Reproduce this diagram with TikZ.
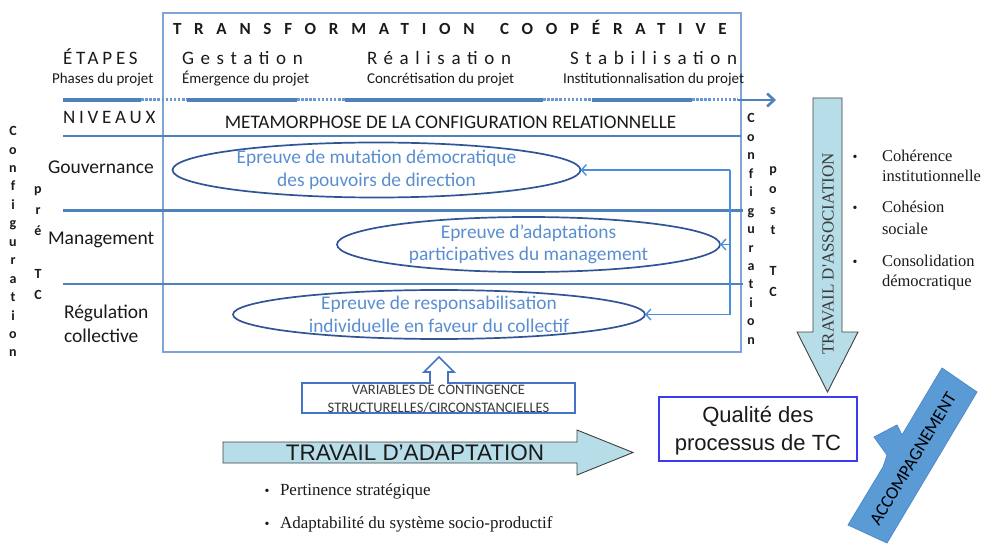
\documentclass[tikz,border=0pt]{standalone}
\usepackage{fontspec}
\setmainfont{Carlito}
\newfontfamily\serif{Liberation Serif}
\newfontfamily\arial{Liberation Sans}
\newfontfamily\wide[LetterSpace=20]{Carlito}
\newfontfamily\wider[LetterSpace=35]{Carlito}
\newfontfamily\widest[LetterSpace=75]{Carlito}
\usetikzlibrary{shapes.geometric,arrows.meta}
\definecolor{lineblue}{HTML}{4F81BD}
\definecolor{dotblue}{HTML}{6A98D2}
\definecolor{rectblue}{HTML}{7FA5D6}
\definecolor{ellblue}{HTML}{2F5597}
\definecolor{txtblue}{HTML}{5A8ED0}
\definecolor{fbblue}{HTML}{4A8FDB}
\definecolor{cyanfill}{HTML}{B7DEE8}
\definecolor{accblue}{HTML}{5B9BD5}
\definecolor{accedge}{HTML}{4F8BC9}
\definecolor{qblue}{HTML}{3B3BF5}
\definecolor{calloutblue}{HTML}{4472C4}
\definecolor{txt}{HTML}{1A1A1A}
\definecolor{arrowedge}{HTML}{404040}
\definecolor{graytxt}{HTML}{3A3A3A}
\begin{document}
\begin{tikzpicture}[x=1pt,y=-1pt,
  every node/.style={inner sep=0pt, outer sep=0pt, text=txt},
  hline/.style={draw=lineblue, line width=2.2pt},
  tlsolid/.style={draw=lineblue, line width=3.4pt},
  tldot/.style={draw=dotblue, line width=3pt, dash pattern=on 2.5pt off 1.6pt},
  tlarrow/.style={draw=lineblue, line width=2.6pt, -{Straight Barb[length=7pt,width=13pt]}},
  ellbox/.style={draw=ellblue, line width=1.7pt, ellipse},
  elltext/.style={text=txtblue, align=center, font=\fontsize{19.4}{22.5}\selectfont},
  rowlabel/.style={font=\fontsize{19.5}{23}\selectfont, anchor=base west},
  stagelabel/.style={font=\wider\fontsize{19}{22}\selectfont, anchor=base west},
  phaselabel/.style={font=\fontsize{15}{18}\selectfont, anchor=base west},
  vletters/.style={font=\bfseries\fontsize{14}{18.45}\selectfont, align=center},
  fback/.style={draw=fbblue, line width=1.4pt},
  fbarrow/.style={fback, -{Straight Barb[length=5pt,width=11pt]}},
  bigarrow/.style={draw=arrowedge, line width=0.9pt, fill=cyanfill},
  sertext/.style={font=\serif\fontsize{16.5}{20}\selectfont, anchor=base west},
  sertextb/.style={font=\serif\fontsize{17}{20}\selectfont, anchor=base west},
  bul/.style={font=\serif\fontsize{14}{20}\selectfont, anchor=base}]
\useasboundingbox (0,0) rectangle (985,545);

% ---- main frame
\node[draw=rectblue, line width=1.3pt, minimum width=578pt, minimum height=339pt, anchor=north west] (main) at (163,13) {};

% ---- horizontal lines
\coordinate (h1a) at (63,136); \coordinate (h1b) at (741,136);
\coordinate (h2a) at (63,210.5); \coordinate (h2b) at (743,210.5);
\coordinate (h3a) at (63,284); \coordinate (h3b) at (743,284);
\draw[hline] (h1a) -- (h1b);
\draw[hline] (h2a) -- (h2b);
\draw[hline] (h3a) -- (h3b);

% ---- timeline arrow
\coordinate (t0) at (63,100); \coordinate (t1) at (141,100);
\coordinate (t2) at (187,100); \coordinate (t3) at (297,100);
\coordinate (t4) at (345,100); \coordinate (t5) at (543,100);
\coordinate (t6) at (592,100); \coordinate (t7) at (692,100);
\coordinate (t8) at (738,100); \coordinate (tend) at (776,100);
\draw[tlsolid] (t0) -- (t1) (t2) -- (t3) (t4) -- (t5) (t6) -- (t7);
\draw[tldot] (t1) -- (t2) (t3) -- (t4) (t5) -- (t6) (t7) -- (t8);
\draw[tlarrow] (t8) -- (tend);

% ---- headings
\node[font=\widest\bfseries\fontsize{17}{20}\selectfont, anchor=base west] (title) at (173,34.3) {TRANSFORMATION\hspace{9pt} COOPÉRATIVE};
\node[font=\wide\fontsize{19}{22}\selectfont, anchor=base west] (etapes) at (63,65) {ÉTAPES};
\node[phaselabel] (phases) at (52,84) {Phases du projet};
\node[stagelabel] (gest) at (182,65) {Gestation};
\node[phaselabel] (emerg) at (182,84) {Émergence du projet};
\node[stagelabel] (real) at (367,65) {Réalisation};
\node[phaselabel] (concr) at (367,84) {Concrétisation du projet};
\node[stagelabel] (stab) at (570,65) {Stabilisation};
\node[phaselabel] (inst) at (563,84) {Institutionnalisation du projet};
\node[font=\wide\fontsize{19}{22}\selectfont, anchor=base west] (niv) at (63,124) {NIVEAUX};
\node[font=\fontsize{19.2}{22}\selectfont, anchor=base] (meta) at (450.5,129) {METAMORPHOSE DE LA CONFIGURATION RELATIONNELLE};

% ---- row labels
\node[rowlabel] (gouv) at (48,174) {Gouvernance};
\node[rowlabel] (mgmt) at (48,245) {Management};
\node[rowlabel] (regul) at (64,318) {Régulation};
\node[rowlabel] (coll) at (64,342) {collective};

% ---- vertical letters
\node[vletters] (cfgL) at (13,241.7) {C\\o\\n\\f\\i\\g\\u\\r\\a\\t\\i\\o\\n};
\node[vletters, font=\bfseries\fontsize{14}{21.2}\selectfont] (preL) at (38,243) {p\\r\\é\\\mbox{}\\T\\C};
\node[vletters] (cfgR) at (751,229) {C\\o\\n\\f\\i\\g\\u\\r\\a\\t\\i\\o\\n};
\node[vletters, font=\bfseries\fontsize{14}{20.5}\selectfont] (postR) at (773,231.5) {p\\o\\s\\t\\\mbox{}\\T\\C};

% ---- ellipses
\node[ellbox, minimum width=408pt, minimum height=55pt] (e1) at (376.5,170) {};
\node[elltext] (t1txt) at (e1.center) {Epreuve de mutation démocratique\\des pouvoirs de direction};
\node[ellbox, minimum width=383pt, minimum height=55pt] (e2) at (528.5,244.5) {};
\node[elltext] (t2txt) at (e2.center) {Epreuve d’adaptations\\participatives du management};
\node[ellbox, minimum width=412pt, minimum height=49pt] (e3) at (439,314.5) {};
\node[elltext] (t3txt) at (e3.center) {Epreuve de responsabilisation\\individuelle en faveur du collectif};

% ---- feedback connectors
\coordinate (fbtop) at (730,170);
\coordinate (fbmid) at (730,244.5);
\coordinate (fbbot) at (730,314.5);
\draw[fback] (fbtop) -- (fbbot);
\draw[fbarrow] (fbtop) -- (e1.east);
\draw[fbarrow] (fbmid) -- (e2.east);
\draw[fbarrow] (fbbot) -- (e3.east);

% ---- variables callout
\draw[calloutblue, line width=1.6pt, fill=white]
  (302,383) -- (430,383) -- (430,372) -- (424,372) -- (439,357) -- (454,372) -- (448,372)
  -- (448,383) -- (575,383) -- (575,413) -- (302,413) -- cycle;
\node[font=\fontsize{14.5}{18}\selectfont, align=center, text=graytxt] (vars) at (438.5,399.5) {VARIABLES DE CONTINGENCE\\STRUCTURELLES/CIRCONSTANCIELLES};

% ---- travail d'adaptation
\draw[bigarrow] (223,442) -- (577,442) -- (577,430) -- (633,452.5) -- (577,475) -- (577,463) -- (223,463) -- cycle;
\node[font=\arial\fontsize{22.5}{26}\selectfont] (adapt) at (415,452.5) {TRAVAIL D’ADAPTATION};
\node[bul] (b1) at (267,495) {\textbullet};
\node[sertextb] (p1) at (280,495) {Pertinence stratégique};
\node[bul] (b2) at (267,528) {\textbullet};
\node[sertextb] (p2) at (280,528) {Adaptabilité du système socio-productif};

% ---- travail d'association
\draw[bigarrow] (813,98) -- (842,98) -- (842,332) -- (858,332) -- (827.5,392) -- (797,332) -- (813,332) -- cycle;
\node[font=\serif\fontsize{17}{20}\selectfont, rotate=90, text=graytxt] (assoc) at (828,254) {TRAVAIL D'ASSOCIATION};
\node[bul] (b3) at (855,161.7) {\textbullet};
\node[sertext] (c1) at (882,161.7) {Cohérence};
\node[sertext] (c1b) at (882,181.7) {institutionnelle};
\node[bul] (b4) at (855,213) {\textbullet};
\node[sertext] (c2) at (882,213) {Cohésion};
\node[sertext] (c2b) at (882,235) {sociale};
\node[bul] (b5) at (855,266.7) {\textbullet};
\node[sertext] (c3) at (882,266.7) {Consolidation};
\node[sertext] (c3b) at (882,286.7) {démocratique};

% ---- qualite
\node[draw=qblue, line width=1.5pt, minimum width=198pt, minimum height=64pt, fill=white] (qual) at (758,429) {};
\node[font=\arial\fontsize{22}{28}\selectfont, align=center] (qualt) at (758,431) {Qualité des\\processus de TC};

% ---- accompagnement
\draw[accedge, line width=0.8pt, fill=accblue]
  (848,525) -- (883,467) -- (887,455) -- (874,437) -- (897,425) -- (902,435)
  -- (942,368) -- (977,392) -- (887,543) -- cycle;
\node[font=\fontsize{18}{20}\selectfont, rotate=59, text=black] (acc) at (913,459) {ACCOMPAGNEMENT};
\end{tikzpicture}
\end{document}
